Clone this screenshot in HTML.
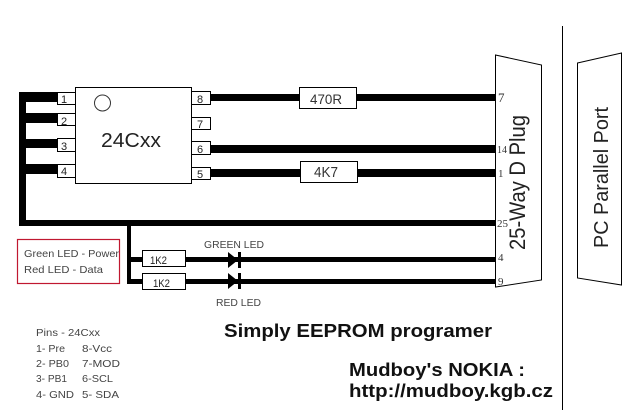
<!DOCTYPE html>
<html>
<head>
<meta charset="utf-8">
<style>
html,body{margin:0;padding:0;background:#fff}
svg{display:block}
text{font-family:"Liberation Sans",sans-serif;fill:#222}
.b{font-weight:bold;fill:#111}
.s{fill:#444;font-size:10.5px}
.box{fill:#fff;stroke:#000;stroke-width:1}
.n{font-family:"Liberation Serif",serif;fill:#333}
</style>
</head>
<body>
<svg width="639" height="410" viewBox="0 0 639 410" xmlns="http://www.w3.org/2000/svg">
<!-- thick wires -->
<g fill="#000">
<rect x="19" y="92" width="7" height="134"/>
<rect x="19" y="92" width="38" height="10"/>
<rect x="26" y="113" width="31" height="10"/>
<rect x="26" y="139" width="31" height="9"/>
<rect x="26" y="164" width="31" height="10"/>
<rect x="19" y="220" width="477" height="6"/>
<rect x="211" y="94" width="285" height="7"/>
<rect x="211" y="145" width="285" height="8"/>
<rect x="209" y="169" width="287" height="8"/>
<rect x="127" y="226" width="4" height="57"/>
<rect x="127" y="257" width="369" height="5"/>
<rect x="127" y="279" width="369" height="5"/>
</g>
<!-- connectors -->
<polygon class="box" points="495.5,55 541.5,65 541.5,280 495.5,287"/>
<polygon class="box" points="577.5,63 621.5,53 621.5,285 577.5,278"/>
<rect x="562" y="26" width="1" height="384" fill="#000"/>
<!-- chip -->
<rect class="box" x="57.5" y="92.5" width="18" height="12"/>
<rect class="box" x="57.5" y="113.5" width="18" height="12"/>
<rect class="box" x="57.5" y="138.5" width="18" height="13"/>
<rect class="box" x="57.5" y="164.5" width="18" height="13"/>
<rect class="box" x="191.5" y="91.5" width="19" height="13"/>
<rect class="box" x="191.5" y="117.5" width="19" height="12"/>
<rect class="box" x="191.5" y="141.5" width="19" height="13"/>
<rect class="box" x="191.5" y="167.5" width="19" height="12"/>
<rect class="box" x="75.5" y="87.5" width="116" height="96"/>
<circle cx="102.5" cy="103" r="8" fill="#fff" stroke="#333"/>
<text x="101" y="147" font-size="20" textLength="60" lengthAdjust="spacingAndGlyphs">24Cxx</text>
<g font-size="11" style="fill:#333">
<text x="61" y="103">1</text><text x="61" y="125">2</text><text x="61" y="150">3</text><text x="61" y="175">4</text>
<text x="197" y="103">8</text><text x="197" y="128">7</text><text x="197" y="153">6</text><text x="197" y="178">5</text>
</g>
<!-- resistors -->
<rect class="box" x="299.5" y="87.5" width="57" height="21"/>
<text x="310" y="104" font-size="13.5" textLength="32" lengthAdjust="spacingAndGlyphs" style="fill:#333">470R</text>
<rect class="box" x="300.5" y="161.5" width="57" height="21"/>
<text x="314" y="177" font-size="15" textLength="24" lengthAdjust="spacingAndGlyphs" style="fill:#333">4K7</text>
<rect class="box" x="142.5" y="250.5" width="43" height="16"/>
<text x="150" y="264" font-size="11" textLength="17" lengthAdjust="spacingAndGlyphs">1K2</text>
<rect class="box" x="142.5" y="273.5" width="43" height="16"/>
<text x="153" y="287" font-size="11" textLength="17" lengthAdjust="spacingAndGlyphs">1K2</text>
<!-- diodes -->
<polygon points="228,252 238,260 228,268" fill="#000"/>
<rect x="238" y="252" width="3" height="16" fill="#000"/>
<polygon points="228,273 238,281 228,289" fill="#000"/>
<rect x="238" y="273" width="3" height="16" fill="#000"/>
<text class="s" x="204" y="248" textLength="60" lengthAdjust="spacingAndGlyphs">GREEN LED</text>
<text class="s" x="216" y="306" textLength="45" lengthAdjust="spacingAndGlyphs">RED LED</text>
<!-- connector labels -->
<text class="n" x="498" y="102" font-size="13">7</text>
<text class="n" x="497" y="153" font-size="11" textLength="10" lengthAdjust="spacingAndGlyphs">14</text>
<text class="n" x="498" y="177" font-size="11">1</text>
<text class="n" x="497" y="227" font-size="11" textLength="11" lengthAdjust="spacingAndGlyphs">25</text>
<text class="n" x="498" y="261" font-size="11">4</text>
<text class="n" x="498" y="285" font-size="11">9</text>
<text transform="translate(525,250) rotate(-90)" font-size="22" textLength="135" lengthAdjust="spacingAndGlyphs">25-Way D Plug</text>
<text transform="translate(608,248) rotate(-90)" font-size="20" textLength="141" lengthAdjust="spacingAndGlyphs">PC Parallel Port</text>
<!-- legend -->
<rect x="17.5" y="239.5" width="102" height="44" fill="#fff" stroke="#c01830" stroke-width="1.2"/>
<text class="s" x="24" y="257" textLength="95" lengthAdjust="spacingAndGlyphs">Green LED - Power</text>
<text class="s" x="24" y="273" textLength="79" lengthAdjust="spacingAndGlyphs">Red LED - Data</text>
<!-- pins -->
<text class="s" x="36" y="336" textLength="64" lengthAdjust="spacingAndGlyphs">Pins - 24Cxx</text>
<text class="s" x="36" y="352" textLength="29" lengthAdjust="spacingAndGlyphs">1- Pre</text>
<text class="s" x="82" y="352" textLength="30" lengthAdjust="spacingAndGlyphs">8-Vcc</text>
<text class="s" x="36" y="367" textLength="33" lengthAdjust="spacingAndGlyphs">2- PB0</text>
<text class="s" x="82" y="367" textLength="38" lengthAdjust="spacingAndGlyphs">7-MOD</text>
<text class="s" x="36" y="382" textLength="31" lengthAdjust="spacingAndGlyphs">3- PB1</text>
<text class="s" x="82" y="382" textLength="31" lengthAdjust="spacingAndGlyphs">6-SCL</text>
<text class="s" x="36" y="398" textLength="38" lengthAdjust="spacingAndGlyphs">4- GND</text>
<text class="s" x="82" y="398" textLength="37" lengthAdjust="spacingAndGlyphs">5- SDA</text>
<!-- titles -->
<text class="b" x="224" y="337" font-size="18.5" textLength="268" lengthAdjust="spacingAndGlyphs">Simply EEPROM programer</text>
<text class="b" x="349" y="376" font-size="18.5" textLength="176" lengthAdjust="spacingAndGlyphs">Mudboy's NOKIA :</text>
<text class="b" x="349" y="397" font-size="18.5" textLength="204" lengthAdjust="spacingAndGlyphs">http://mudboy.kgb.cz</text>
</svg>
</body>
</html>
